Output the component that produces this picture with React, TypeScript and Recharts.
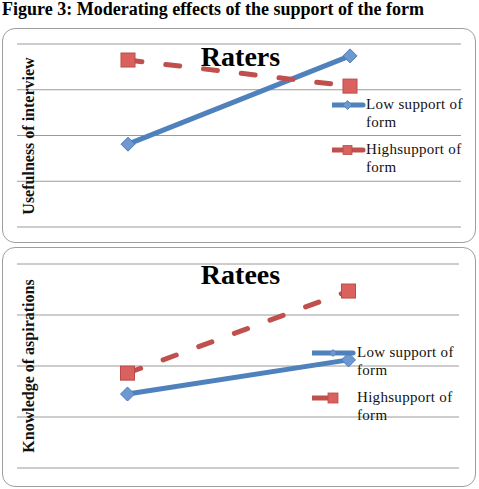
import React from 'react';
import { LineChart, Line, XAxis, YAxis, CartesianGrid, Legend } from 'recharts';

// Categories along the hidden x axis
const groups = ['Low', 'High'];

// Raters panel
const ratersLow = [1.81, 3.74];
const ratersHigh = [3.65, 3.08];

// Ratees panel
const rateesLow = [1.45, 2.12];
const rateesHigh = [1.86, 3.47];

// Horizontal gridlines
const yTicks = [0, 1, 2, 3, 4];

const lowName = 'Low support of form';
const highName = 'Highsupport of form';
const seriesOrder = ['low', 'high'];

const BLUE = '#4F81BD';
const RED = '#C0504D';
const SERIF = '"Liberation Serif", "Times New Roman", serif';

const buildRows = (low: number[], high: number[]) =>
  groups.map((g, i) => ({ group: g, low: low[i], high: high[i] }));

const Diamond = (props: any) => {
  const { cx, cy, index } = props;
  if (cx == null || cy == null) return <g key={`d${index}`} />;
  const r = 7;
  return (
    <polygon
      key={`d${index}`}
      points={`${cx},${cy - r} ${cx + r},${cy} ${cx},${cy + r} ${cx - r},${cy}`}
      fill="#6D98D0"
      stroke="#4A7CB9"
      strokeWidth={1}
    />
  );
};

const Square = (props: any) => {
  const { cx, cy, index } = props;
  if (cx == null || cy == null) return <g key={`s${index}`} />;
  const h = 7;
  return (
    <rect
      key={`s${index}`}
      x={cx - h}
      y={cy - h}
      width={h * 2}
      height={h * 2}
      fill="#DA625E"
      stroke="#BC4A47"
      strokeWidth={1}
    />
  );
};

type IconGeom = { w: number; lineLen: number; markX: number; small: number };

const LegendBox = ({ payload, icons }: { payload?: any[]; icons: IconGeom[] }) => {
  const items = [...(payload || [])].sort(
    (a: any, b: any) => seriesOrder.indexOf(a.dataKey) - seriesOrder.indexOf(b.dataKey)
  );
  return (
    <div style={{ fontFamily: SERIF }}>
      {items.map((entry: any, i: number) => {
        const ic = icons[i];
        const isLow = entry.dataKey === 'low';
        const s = ic.small;
        return (
          <div key={i} style={{ display: 'flex', alignItems: 'flex-start', height: 36, marginBottom: 9 }}>
            <svg width={ic.w} height={20} style={{ display: 'block', flex: 'none' }}>
              <line x1={0} y1={10} x2={ic.lineLen} y2={10} stroke={isLow ? BLUE : RED} strokeWidth={5} strokeLinecap="round" />
              {isLow ? (
                <polygon
                  points={`${ic.markX},${10 - s} ${ic.markX + s},10 ${ic.markX},${10 + s} ${ic.markX - s},10`}
                  fill="#6D98D0"
                  stroke="#4A7CB9"
                  strokeWidth={0.8}
                />
              ) : (
                <rect x={ic.markX - s} y={10 - s} width={s * 2} height={s * 2} fill="#DA625E" stroke="#BC4A47" strokeWidth={0.8} />
              )}
            </svg>
            <div style={{ width: 104, fontSize: 15, lineHeight: '18px', letterSpacing: 0.3, color: '#111' }}>
              {entry.value}
            </div>
          </div>
        );
      })}
    </div>
  );
};

type PanelProps = {
  top: number;
  height: number;
  margin: { top: number; right: number; bottom: number; left: number };
  low: number[];
  high: number[];
  title: string;
  titleTop: number;
  yLabel: string;
  yLabelCenter: number;
  legendLeft: number;
  legendTop: number;
  icons: IconGeom[];
};

const Panel = (p: PanelProps) => {
  const rows = buildRows(p.low, p.high);
  return (
    <div style={{ position: 'absolute', left: 0, top: p.top, width: 479, height: p.height }}>
      <div
        style={{
          position: 'absolute',
          left: 2,
          top: 0,
          width: 474,
          height: p.height,
          boxSizing: 'border-box',
          border: '1px solid #9E9E9E',
          borderRadius: 13,
          background: '#fff',
        }}
      />
      <div style={{ position: 'absolute', left: 0, top: 0 }}>
        <LineChart width={479} height={p.height} data={rows} margin={p.margin}>
          <CartesianGrid horizontal vertical={false} stroke="#9A9A9A" strokeWidth={1} />
          <XAxis dataKey="group" type="category" scale="band" hide />
          <YAxis type="number" domain={[0, 4]} ticks={yTicks} hide />
          <Line
            dataKey="low"
            name={lowName}
            type="linear"
            stroke={BLUE}
            strokeWidth={5}
            dot={Diamond}
            activeDot={false}
            isAnimationActive={false}
          />
          <Line
            dataKey="high"
            name={highName}
            type="linear"
            stroke={RED}
            strokeWidth={5}
            strokeDasharray="14 24"
            strokeLinecap="round"
            dot={Square}
            activeDot={false}
            isAnimationActive={false}
          />
          <Legend
            layout="vertical"
            align="center"
            verticalAlign="middle"
            wrapperStyle={{ left: p.legendLeft, top: p.legendTop, width: 150 }}
            content={(props: any) => <LegendBox payload={props.payload} icons={p.icons} />}
          />
        </LineChart>
      </div>
      <div
        style={{
          position: 'absolute',
          left: 0,
          width: 479,
          top: p.titleTop,
          textAlign: 'center',
          fontFamily: SERIF,
          fontWeight: 'bold',
          fontSize: 28,
          lineHeight: '28px',
          color: '#000',
          paddingLeft: 1,
        }}
      >
        {p.title}
      </div>
      <div
        style={{
          position: 'absolute',
          left: 28.6 - 110,
          top: p.yLabelCenter - 8,
          width: 220,
          height: 16,
          textAlign: 'center',
          fontFamily: SERIF,
          fontWeight: 'bold',
          fontSize: 16,
          lineHeight: '16px',
          color: '#111',
          transform: 'rotate(-90deg)',
          whiteSpace: 'nowrap',
        }}
      >
        {p.yLabel}
      </div>
    </div>
  );
};

export default function App() {
  return (
    <div style={{ position: 'absolute', left: 0, top: 0, width: 479, height: 489, background: '#fff', overflow: 'hidden' }}>
      <div
        style={{
          position: 'absolute',
          left: 2,
          top: 0,
          fontFamily: SERIF,
          fontWeight: 'bold',
          fontSize: 18,
          lineHeight: '18px',
          color: '#000',
          whiteSpace: 'nowrap',
        }}
      >
        Figure 3: Moderating effects of the support of the form
      </div>
      <Panel
        top={28}
        height={215}
        margin={{ top: 16, right: 18, bottom: 16, left: 17 }}
        low={ratersLow}
        high={ratersHigh}
        title="Raters"
        titleTop={14.5}
        yLabel="Usefulness of interview"
        yLabelCenter={108}
        legendLeft={332}
        legendTop={67}
        icons={[
          { w: 34, lineLen: 31, markX: 15.5, small: 4.5 },
          { w: 34, lineLen: 31, markX: 15.5, small: 4.5 },
        ]}
      />
      <Panel
        top={247}
        height={240}
        margin={{ top: 17, right: 20, bottom: 19, left: 17 }}
        low={rateesLow}
        high={rateesHigh}
        title="Ratees"
        titleTop={13.5}
        yLabel="Knowledge of aspirations"
        yLabelCenter={119}
        legendLeft={312}
        legendTop={96}
        icons={[
          { w: 45, lineLen: 41, markX: 21, small: 3.5 },
          { w: 45, lineLen: 22, markX: 21, small: 5 },
        ]}
      />
    </div>
  );
}
